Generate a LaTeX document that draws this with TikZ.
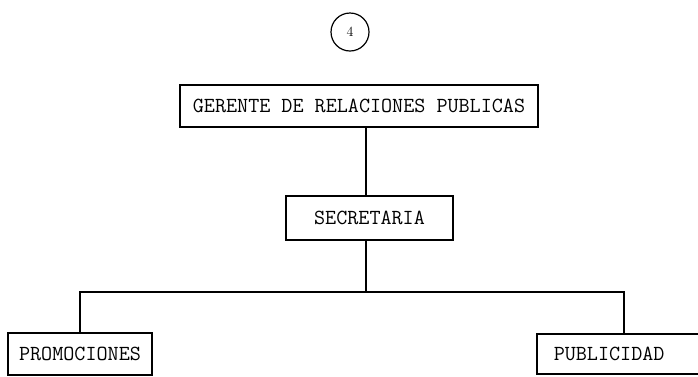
\documentclass[tikz,border=0pt]{standalone}
\usepackage{fontspec}
\usetikzlibrary{positioning}
\begin{document}
\begin{tikzpicture}[x=1pt,y=-1pt,line width=1.5pt,
  box/.style={draw,rectangle,minimum height=42pt,inner sep=0pt,
    font=\ttfamily\fontsize{21.5}{23}\selectfont},
  tag/.style={draw,circle,minimum size=38pt,inner sep=0pt,line width=1.2pt,
    font=\fontsize{14}{16}\selectfont}]
\useasboundingbox (0,0) rectangle (698,376);
\clip (0,0) rectangle (698,376);

\node [tag] (num) at (350,32) {4};

\node [box,minimum width=358pt] (gerente) at (359,106) {GERENTE DE RELACIONES PUBLICAS};
\node [box,minimum width=167pt,minimum height=44pt] (secretaria) at (369.5,218) {SECRETARIA};
\node [box,minimum width=144pt] (promociones) at (80,354) {PROMOCIONES};
\node [box,anchor=north west,minimum height=40pt,text width=170pt,inner xsep=17pt,align=left]
  (publicidad) at (536,333) {PUBLICIDAD};

\coordinate (bus) at (366,292);
\draw (gerente.south -| bus) -- (secretaria.north -| bus);
\draw (secretaria.south -| bus) -- (bus);
\draw (promociones.north) |- (bus) -| ([xshift=88pt]publicidad.north west);
\end{tikzpicture}
\end{document}
